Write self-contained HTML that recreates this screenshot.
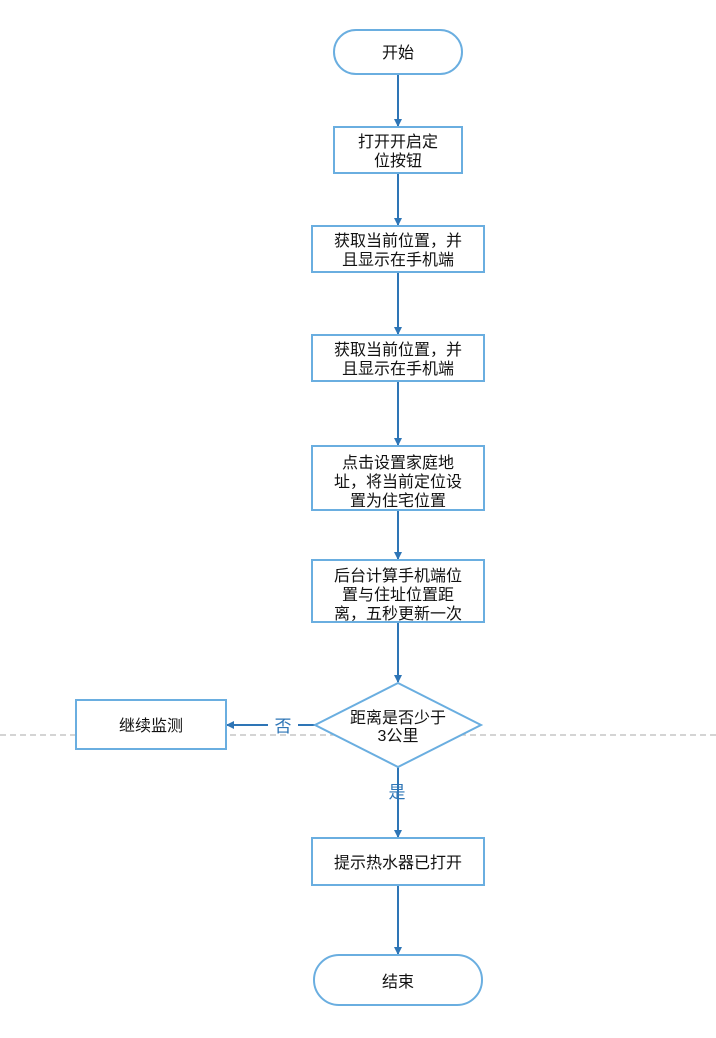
<!DOCTYPE html>
<html><head><meta charset="utf-8"><style>
body{margin:0;background:#fff;}
svg text{font-family:"Liberation Sans","Noto Sans CJK SC",sans-serif;font-size:16px;fill:#111;text-anchor:middle;}
</style></head><body>
<svg width="716" height="1033" viewBox="0 0 716 1033" xmlns="http://www.w3.org/2000/svg">
<defs><marker id="a" markerWidth="8" markerHeight="8" refX="7" refY="4" orient="auto" markerUnits="userSpaceOnUse"><path d="M0,0 L8,4 L0,8 z" fill="#2e75b6"/></marker></defs>
<line x1="0" y1="735" x2="716" y2="735" stroke="#bbb" stroke-width="1.2" stroke-dasharray="6,4"/>
<g stroke="#2e75b6" stroke-width="2" fill="none" marker-end="url(#a)">
<line x1="398" y1="74" x2="398" y2="126"/>
<line x1="398" y1="173" x2="398" y2="225"/>
<line x1="398" y1="272" x2="398" y2="334"/>
<line x1="398" y1="381" x2="398" y2="445"/>
<line x1="398" y1="510" x2="398" y2="559"/>
<line x1="398" y1="622" x2="398" y2="682"/>
<line x1="398" y1="767" x2="398" y2="837"/>
<line x1="398" y1="885" x2="398" y2="954"/>
</g>
<line x1="315" y1="725" x2="298" y2="725" stroke="#2e75b6" stroke-width="2"/>
<line x1="268" y1="725" x2="227" y2="725" stroke="#2e75b6" stroke-width="2" marker-end="url(#a)"/>
<g fill="#fff" stroke="#6aaee0" stroke-width="2">
<rect x="334" y="30" width="128" height="44" rx="22"/>
<rect x="334" y="127" width="128" height="46"/>
<rect x="312" y="226" width="172" height="46"/>
<rect x="312" y="335" width="172" height="46"/>
<rect x="312" y="446" width="172" height="64"/>
<rect x="312" y="560" width="172" height="62"/>
<polygon points="398,683 481,725 398,767 315,725"/>
<rect x="76" y="700" width="150" height="49"/>
<rect x="312" y="838" width="172" height="47"/>
<rect x="314" y="955" width="168" height="50" rx="25"/>
</g>
<text x="398" y="58">开始</text>
<text x="398" y="147">打开开启定</text><text x="398" y="166">位按钮</text>
<text x="398" y="246">获取当前位置，并</text><text x="398" y="265">且显示在手机端</text>
<text x="398" y="355">获取当前位置，并</text><text x="398" y="374">且显示在手机端</text>
<text x="398" y="468">点击设置家庭地</text><text x="398" y="487">址，将当前定位设</text><text x="398" y="506">置为住宅位置</text>
<text x="398" y="581">后台计算手机端位</text><text x="398" y="600">置与住址位置距</text><text x="398" y="619">离，五秒更新一次</text>
<text x="398" y="723">距离是否少于</text><text x="398" y="741">3公里</text>
<text x="151" y="731">继续监测</text>
<text x="283" y="732" style="fill:#2e75b6;font-size:17px">否</text>
<text x="397" y="798" style="fill:#2e75b6;font-size:17px">是</text>
<text x="398" y="868">提示热水器已打开</text>
<text x="398" y="987">结束</text>
</svg>
</body></html>
